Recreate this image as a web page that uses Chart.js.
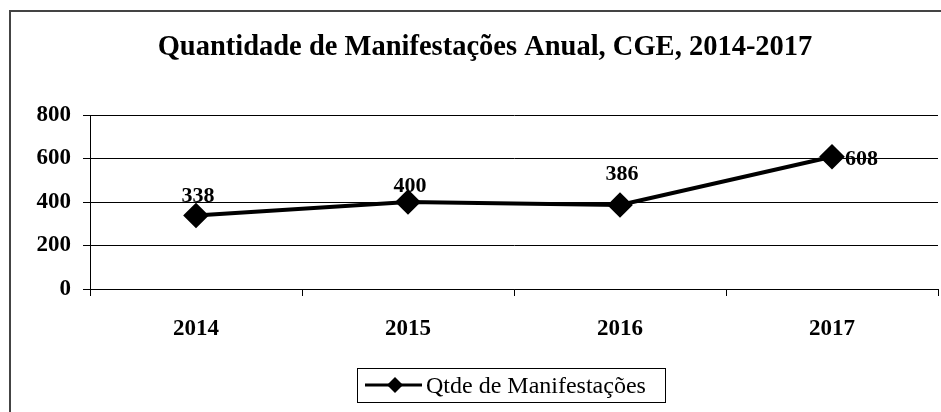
<!DOCTYPE html>
<html>
<head>
<meta charset="utf-8">
<script src="https://cdn.jsdelivr.net/npm/chart.js"></script>
<style>
  html, body { margin: 0; padding: 0; background: #fff; overflow: hidden; }
  canvas { position: absolute; left: 0; top: 0; }
</style>
</head>
<body>
<canvas id="chart" width="941" height="412"></canvas>
<script>
// Quantidade de Manifestações Anual, CGE
const years = ['2014', '2015', '2016', '2017'];
const manifestacoes = [338, 400, 386, 608];
const yTicks = [0, 200, 400, 600, 800];
const seriesName = 'Qtde de Manifestações';
const titleText = 'Quantidade de Manifestações Anual, CGE, 2014-2017';

const serif = '"Liberation Serif", "Times New Roman", serif';

// outer frame + title
const frameTitle = {
  id: 'frameTitle',
  beforeDraw(chart) {
    const ctx = chart.ctx;
    ctx.save();
    ctx.fillStyle = '#fff';
    ctx.fillRect(0, 0, chart.width, chart.height);
    ctx.strokeStyle = '#444';
    ctx.lineWidth = 2;
    ctx.beginPath();
    ctx.moveTo(10, chart.height);
    ctx.lineTo(10, 11);
    ctx.lineTo(chart.width, 11);
    ctx.stroke();
    ctx.fillStyle = '#000';
    ctx.font = 'bold 28.5px ' + serif;
    ctx.textAlign = 'center';
    ctx.textBaseline = 'alphabetic';
    ctx.fillText(titleText, 485, 55);
    ctx.restore();
  }
};

// value labels next to the points
const valueLabels = {
  id: 'valueLabels',
  afterDatasetsDraw(chart) {
    const ctx = chart.ctx;
    const pts = chart.getDatasetMeta(0).data;
    ctx.save();
    ctx.font = 'bold 22px ' + serif;
    ctx.fillStyle = '#000';
    ctx.textBaseline = 'alphabetic';
    pts.forEach((p, i) => {
      const v = manifestacoes[i];
      if (i === pts.length - 1) {
        ctx.textAlign = 'left';
        ctx.fillText(v, p.x + 13, p.y + 8);
      } else {
        ctx.textAlign = 'center';
        const gap = i === 2 ? 25 : (i === 0 ? 13 : 10);
        ctx.fillText(v, p.x + 2, p.y - gap);
      }
    });
    ctx.restore();
  }
};

// boxed legend at the bottom
const boxLegend = {
  id: 'boxLegend',
  afterDraw(chart) {
    const ctx = chart.ctx;
    ctx.save();
    const x = 357, y = 368, w = 308, h = 34;
    ctx.strokeStyle = '#000';
    ctx.lineWidth = 1;
    ctx.strokeRect(x + 0.5, y + 0.5, w, h);
    const cy = y + h / 2;
    ctx.lineWidth = 3;
    ctx.beginPath();
    ctx.moveTo(x + 8, cy);
    ctx.lineTo(x + 65, cy);
    ctx.stroke();
    ctx.fillStyle = '#000';
    const cx = x + 38;
    ctx.beginPath();
    ctx.moveTo(cx, cy - 8);
    ctx.lineTo(cx + 8, cy);
    ctx.lineTo(cx, cy + 8);
    ctx.lineTo(cx - 8, cy);
    ctx.closePath();
    ctx.fill();
    ctx.font = '24px ' + serif;
    ctx.textAlign = 'left';
    ctx.textBaseline = 'alphabetic';
    ctx.fillText(seriesName, x + 69, cy + 8);
    ctx.restore();
  }
};

new Chart(document.getElementById('chart').getContext('2d'), {
  type: 'line',
  data: {
    labels: years,
    datasets: [{
      label: seriesName,
      data: manifestacoes,
      borderColor: '#000',
      backgroundColor: '#000',
      borderWidth: 4,
      pointStyle: 'rectRot',
      pointRadius: 10,
      pointHoverRadius: 10,
      tension: 0
    }]
  },
  options: {
    responsive: false,
    animation: false,
    layout: { autoPadding: false, padding: { left: 0, right: 3, top: 115, bottom: 73 } },
    plugins: {
      legend: { display: false },
      tooltip: { enabled: false },
      title: { display: false }
    },
    scales: {
      x: {
        offset: true,
        afterFit(axis) { axis.height = 50; },
        grid: { display: true, offset: true, drawOnChartArea: false, color: '#000', tickLength: 7, lineWidth: 1 },
        border: { display: true, color: '#000', width: 1 },
        ticks: { color: '#000', font: { family: serif, size: 23, weight: 'bold' }, padding: 19 }
      },
      y: {
        min: 0,
        max: 800,
        afterBuildTicks(axis) { axis.ticks = yTicks.map(v => ({ value: v })); },
        afterFit(axis) { axis.width = 90; },
        grid: { color: '#000', lineWidth: 1, tickLength: 7 },
        border: { display: true, color: '#000', width: 1 },
        ticks: { color: '#000', font: { family: serif, size: 23, weight: 'bold' }, padding: 12 }
      }
    }
  },
  plugins: [frameTitle, valueLabels, boxLegend]
});
</script>
</body>
</html>
